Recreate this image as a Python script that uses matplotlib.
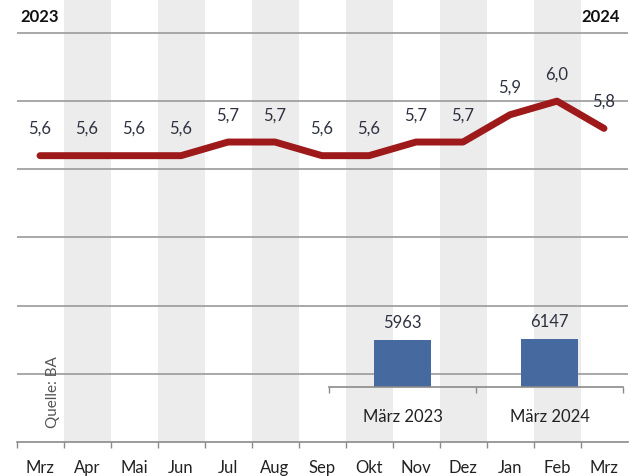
import matplotlib.pyplot as plt
from matplotlib.ticker import FixedLocator

monate = ["Mrz", "Apr", "Mai", "Jun", "Jul", "Aug", "Sep", "Okt", "Nov", "Dez", "Jan", "Feb", "Mrz"]
quote = [5.6, 5.6, 5.6, 5.6, 5.7, 5.7, 5.6, 5.6, 5.7, 5.7, 5.9, 6.0, 5.8]
quote_txt = ["5,6", "5,6", "5,6", "5,6", "5,7", "5,7", "5,6", "5,6", "5,7", "5,7", "5,9", "6,0", "5,8"]
gitter = [4.0, 4.5, 5.0, 5.5, 6.0, 6.5]

balken_kat = ["März 2023", "März 2024"]
balken_wert = [5963, 6147]

plt.rcParams['font.family'] = ['Lato', 'DejaVu Sans']

fig = plt.figure(figsize=(6.33, 4.77), dpi=100)
ax = fig.add_axes([16.5/633, 34/477, 611/633, 443/477])
x = list(range(len(monate)))

# graue Streifen für jeden zweiten Monat
for i in x:
    if i % 2 == 1:
        ax.axvspan(i - 0.5, i + 0.5, color='#ececec', lw=0, zorder=0)
for g in gitter:
    ax.axhline(g, color='#9a9a9a', lw=1.2, zorder=1)

ax.plot(x, quote, color='#9e1a1a', lw=5, solid_capstyle='round', solid_joinstyle='round', zorder=3)
for i in x:
    ax.annotate(quote_txt[i], (x[i], quote[i]), xytext=(0, 20), textcoords='offset points',
                ha='center', va='center', fontsize=12, color='#2e3140', zorder=4)

ax.set_xlim(-0.5, 12.5)
ax.set_ylim(3.5, 6.749)
ax.set_xticks(x)
ax.set_xticklabels(monate, fontsize=12, color='#222222')
ax.xaxis.set_minor_locator(FixedLocator([i - 0.5 for i in x]))
ax.tick_params(axis='x', which='major', length=0, pad=12)
ax.tick_params(axis='x', which='minor', length=4, width=1, color='#8a8a8a')
ax.set_yticks([])
for s in ['top', 'left', 'right']:
    ax.spines[s].set_visible(False)
ax.spines['bottom'].set_color('#8a8a8a')
ax.spines['bottom'].set_linewidth(1.2)
ax.set_facecolor('none')

fig.text(20/633, 1 - 17/477, "2023", fontsize=12, fontweight='bold', ha='left', va='center', color='#111111')
fig.text(620/633, 1 - 17/477, "2024", fontsize=12, fontweight='bold', ha='right', va='center', color='#111111')
fig.text(53/633, 1 - 428/477, "Quelle: BA", fontsize=11, rotation=90, ha='center', va='bottom', color='#555555')

# kleines Balkendiagramm
ins = fig.add_axes([329/633, 89/477, 294/633, 100/477])
ins.set_facecolor('none')
ins.bar([0, 1], balken_wert, width=0.39, color='#4669a0', zorder=2)
for i, v in enumerate(balken_wert):
    ins.annotate(str(v), (i, v), xytext=(0, 13), textcoords='offset points',
                 ha='center', va='center', fontsize=12, color='#2e3140')
ins.set_xlim(-0.5, 1.5)
ins.set_ylim(0, 6147 * 100 / 48)
ins.set_xticks([0, 1])
ins.set_xticklabels(balken_kat, fontsize=12, color='#222222')
ins.xaxis.set_minor_locator(FixedLocator([-0.5, 0.5, 1.5]))
ins.tick_params(axis='x', which='major', length=0, pad=15)
ins.tick_params(axis='x', which='minor', length=4, width=1, color='#8a8a8a')
ins.set_yticks([])
for s in ['top', 'left', 'right']:
    ins.spines[s].set_visible(False)
ins.spines['bottom'].set_color('#8a8a8a')
ins.spines['bottom'].set_linewidth(1.2)

fig.savefig("out.png", dpi=100)
